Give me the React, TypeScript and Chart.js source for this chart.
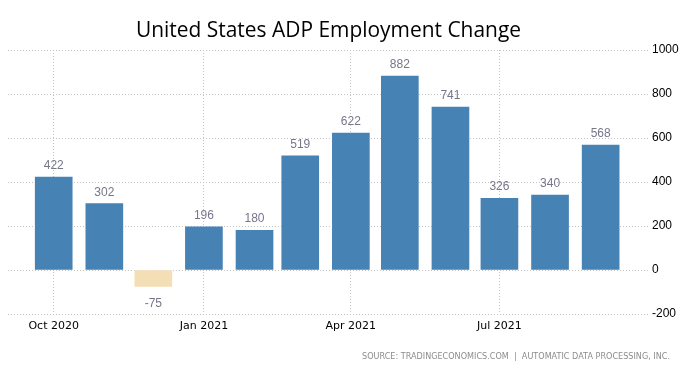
import React, { useEffect, useRef } from "react";
import { Chart, registerables } from "chart.js";

Chart.register(...registerables);

const monthDates = [
  "2020-10-01", "2020-11-01", "2020-12-01", "2021-01-01", "2021-02-01", "2021-03-01",
  "2021-04-01", "2021-05-01", "2021-06-01", "2021-07-01", "2021-08-01", "2021-09-01",
];
const values = [422, 302, -75, 196, 180, 519, 622, 882, 741, 326, 340, 568];
const tickDates = ["2020-10-01", "2021-01-01", "2021-04-01", "2021-07-01"];
const tickLabels = ["Oct 2020", "Jan 2021", "Apr 2021", "Jul 2021"];
const axisStart = "2020-09-03";
const axisEnd = "2021-09-30";
const yMin = -200;
const yMax = 1000;
const yStep = 200;

const TITLE = "United States ADP Employment Change";
const SOURCE = "SOURCE: TRADINGECONOMICS.COM  |  AUTOMATIC DATA PROCESSING, INC.";

const day = (s: string) => Date.parse(s + "T00:00:00Z") / 86400000;

const NUMFONT = '"Liberation Sans", Arial, sans-serif';

const decorPlugin = {
  id: "decor",
  afterDatasetsDraw(chart: any) {
    const ctx = chart.ctx;
    const meta = chart.getDatasetMeta(0);
    ctx.save();
    ctx.font = `12px ${NUMFONT}`;
    ctx.fillStyle = "#76768a";
    ctx.textAlign = "center";
    ctx.textBaseline = "alphabetic";
    meta.data.forEach((el: any, i: number) => {
      const v = values[i];
      if (v >= 0) ctx.fillText(String(v), el.x, el.y - 8);
      else ctx.fillText(String(v), el.x, el.y + 20);
    });
    ctx.restore();
  },
  afterDraw(chart: any) {
    const ctx = chart.ctx;
    ctx.save();
    ctx.font = '22px "Open Sans", sans-serif';
    ctx.fillStyle = "#000";
    ctx.textBaseline = "alphabetic";
    ctx.textAlign = "left";
    const tw = ctx.measureText(TITLE).width;
    ctx.translate(136, 37);
    ctx.scale(385 / tw, 1);
    ctx.fillText(TITLE, 0, 0);
    ctx.restore();

    ctx.save();
    ctx.font = '9px "DejaVu Sans", sans-serif';
    ctx.fillStyle = "#8c8c8c";
    ctx.textBaseline = "alphabetic";
    ctx.textAlign = "left";
    const sw = ctx.measureText(SOURCE).width;
    ctx.translate(362, 359);
    ctx.scale(308 / sw, 1);
    ctx.fillText(SOURCE, 0, 0);
    ctx.restore();
  },
};

export default function App() {
  const ref = useRef<HTMLCanvasElement>(null);
  useEffect(() => {
    if (!ref.current) return;
    const chart = new Chart(ref.current, {
      type: "bar",
      data: {
        datasets: [
          {
            data: monthDates.map((d, i) => ({ x: day(d), y: values[i] })),
            backgroundColor: values.map((v) => (v < 0 ? "#F4DEB5" : "#4682B4")),
            barThickness: 37,
          },
        ],
      },
      options: {
        animation: false,
        responsive: false,
        layout: { padding: { top: 50, left: 8, right: 0, bottom: 0 } },
        plugins: {
          legend: { display: false },
          tooltip: { enabled: false },
          title: { display: false },
        },
        scales: {
          x: {
            type: "linear",
            offset: false,
            min: day(axisStart),
            max: day(axisEnd),
            afterBuildTicks: (s: any) => {
              s.ticks = tickDates.map((d) => ({ value: day(d) }));
            },
            afterFit: (s: any) => {
              s.height = 63;
            },
            ticks: {
              autoSkip: false,
              maxRotation: 0,
              padding: 6,
              color: "#000",
              font: { family: '"DejaVu Sans", sans-serif', size: 11 },
              callback: (v: any) => {
                const idx = tickDates.findIndex((d) => day(d) === v);
                return idx >= 0 ? tickLabels[idx] : "";
              },
            },
            grid: { color: "#c4c4c4", lineWidth: 1, drawTicks: false, offset: false },
            border: { display: false, dash: [1, 2] },
          },
          y: {
            position: "right",
            min: yMin,
            max: yMax,
            afterFit: (s: any) => {
              s.width = 39;
            },
            ticks: {
              stepSize: yStep,
              padding: 4,
              color: "#000",
              font: { family: NUMFONT, size: 12 },
              callback: (v: any) => String(v),
            },
            grid: { color: "#c4c4c4", lineWidth: 1, drawTicks: false },
            border: { display: false, dash: [1, 2] },
          },
        },
      },
      plugins: [decorPlugin],
    } as any);
    return () => chart.destroy();
  }, []);
  return (
    <div style={{ position: "fixed", left: 0, top: 0, width: 687, height: 377, background: "#fff" }}>
      <canvas ref={ref} width={687} height={377} style={{ width: 687, height: 377 }} />
    </div>
  );
}
